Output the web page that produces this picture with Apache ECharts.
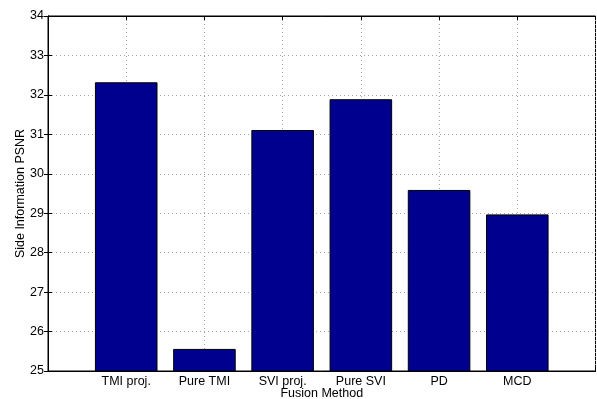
<!DOCTYPE html>
<html>
<head>
<meta charset="utf-8">
<script src="https://cdn.jsdelivr.net/npm/echarts@6/dist/echarts.min.js"></script>
<style>
html,body{margin:0;padding:0;background:#fff;}
#c{width:597px;height:399px;}
</style>
</head>
<body>
<div id="c"></div>
<script>
const categories = ['TMI proj.', 'Pure TMI', 'SVI proj.', 'Pure SVI', 'PD', 'MCD'];
const psnrValues = [32.32, 25.56, 31.11, 31.89, 29.59, 28.97];
const yTicks = [25, 26, 27, 28, 29, 30, 31, 32, 33, 34];

const chart = echarts.init(document.getElementById('c'), null, {renderer: 'canvas'});
const font = 'Liberation Sans, Arial, Helvetica, sans-serif';
const barData = psnrValues.map((v, i) => [i + 1, v]);

const gridLine = {show: true, lineStyle: {color: '#a8a8a8', width: 1, type: [1, 3]}};

chart.setOption({
  animation: false,
  backgroundColor: '#fff',
  grid: {left: 48, right: 1.5, top: 16, bottom: 28, show: true, borderColor: '#000', borderWidth: 1,
    backgroundColor: '#fff', outerBoundsMode: 'none', containLabel: false},
  xAxis: [{
    type: 'value', min: 0, max: categories.length + 1, interval: 1,
    name: 'Fusion Method', nameLocation: 'middle', nameGap: 16, nameMoveOverlap: false,
    nameTextStyle: {fontFamily: font, fontSize: 12.5, color: '#000'},
    axisLine: {show: true, lineStyle: {color: '#000'}},
    axisTick: {show: true, inside: true, length: 4, lineStyle: {color: '#000'}},
    axisLabel: {fontFamily: font, fontSize: 12.5, color: '#000', margin: 4,
      formatter: v => (v >= 1 && v <= categories.length) ? categories[v - 1] : ''},
    splitLine: gridLine
  }, {
    type: 'value', position: 'top', min: 0, max: categories.length + 1, interval: 1,
    axisLine: {show: true, lineStyle: {color: '#000'}},
    axisTick: {show: true, inside: true, length: 4, lineStyle: {color: '#000'}},
    axisLabel: {show: false}, splitLine: {show: false}
  }],
  yAxis: [{
    type: 'value', min: yTicks[0], max: yTicks[yTicks.length - 1], interval: 1,
    name: 'Side Information PSNR', nameLocation: 'middle', nameGap: 21, nameMoveOverlap: false,
    nameTextStyle: {fontFamily: font, fontSize: 12.5, color: '#000'},
    axisLine: {show: true, lineStyle: {color: '#000'}},
    axisTick: {show: true, inside: true, length: 4, lineStyle: {color: '#000'}},
    axisLabel: {fontFamily: font, fontSize: 12.5, color: '#000', margin: 4},
    splitLine: gridLine
  }, {
    type: 'value', position: 'right', min: yTicks[0], max: yTicks[yTicks.length - 1], interval: 1,
    axisLine: {show: true, lineStyle: {color: '#000'}},
    axisTick: {show: true, inside: true, length: 4, lineStyle: {color: '#000'}},
    axisLabel: {show: false}, splitLine: {show: false}
  }],
  series: [{
    type: 'bar', xAxisIndex: 0, yAxisIndex: 0,
    data: barData, barWidth: '80%',
    itemStyle: {color: '#00008f', borderColor: '#000', borderWidth: 1}
  }]
});
</script>
</body>
</html>
